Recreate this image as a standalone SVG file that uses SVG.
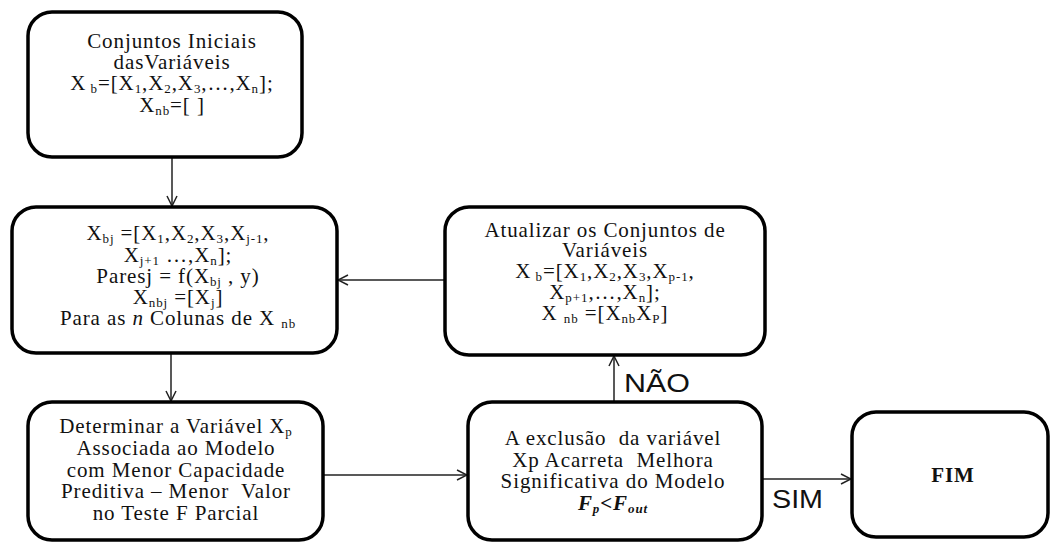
<svg xmlns="http://www.w3.org/2000/svg" width="1051" height="544" viewBox="0 0 1051 544">
<style>
.box{fill:#fff;stroke:#000;stroke-width:3.5}
.t{font-family:"Liberation Serif","Times New Roman",serif;font-size:21px;letter-spacing:0.9px;text-anchor:middle;fill:#111}
.s{font-size:13px}
.lab{font-family:"Liberation Sans",Arial,sans-serif;font-size:25px;fill:#111}
.c{stroke:#222;stroke-width:1.5;fill:none}
</style>
<defs>
<marker id="ah" viewBox="0 0 12 12" refX="11" refY="6" markerWidth="12" markerHeight="12" markerUnits="userSpaceOnUse" orient="auto">
<path d="M1,1 L11,6 L1,11" fill="none" stroke="#222" stroke-width="1.5"/>
</marker>
</defs>
<rect width="1051" height="544" fill="#fff"/>
<g id="connectors">
<line class="c" x1="172" y1="157" x2="172" y2="206" marker-end="url(#ah)"/>
<line class="c" x1="445" y1="280" x2="338" y2="280" marker-end="url(#ah)"/>
<line class="c" x1="171" y1="353" x2="171" y2="401" marker-end="url(#ah)"/>
<line class="c" x1="323" y1="475" x2="467" y2="475" marker-end="url(#ah)"/>
<line class="c" x1="614" y1="402" x2="614" y2="356" marker-end="url(#ah)"/>
<line class="c" x1="752" y1="479" x2="851" y2="479" marker-end="url(#ah)"/>
<text class="lab" x="624" y="392" textLength="66" lengthAdjust="spacingAndGlyphs">NÃO</text>
<text class="lab" x="772" y="508" textLength="51" lengthAdjust="spacingAndGlyphs">SIM</text>
</g>
<g id="node-inicio">
<rect class="box" x="28" y="12" width="274" height="145" rx="24"/>
<text class="t" x="172" y="48">Conjuntos Iniciais</text>
<text class="t" x="172" y="69">dasVariáveis</text>
<text class="t" x="172" y="90">X<tspan class="s" dy="3"> b</tspan><tspan dy="-3">=[X</tspan><tspan class="s" dy="3">1</tspan><tspan dy="-3">,X</tspan><tspan class="s" dy="3">2</tspan><tspan dy="-3">,X</tspan><tspan class="s" dy="3">3</tspan><tspan dy="-3">,…,X</tspan><tspan class="s" dy="3">n</tspan><tspan dy="-3">];</tspan></text>
<text class="t" x="172" y="112">X<tspan class="s" dy="3">nb</tspan><tspan dy="-3">=[ ]</tspan></text>
</g>
<g id="node-pares">
<rect class="box" x="12" y="207" width="325" height="146" rx="24"/>
<text class="t" x="178" y="240">X<tspan class="s" dy="3">bj</tspan><tspan dy="-3"> =[X</tspan><tspan class="s" dy="3">1</tspan><tspan dy="-3">,X</tspan><tspan class="s" dy="3">2</tspan><tspan dy="-3">,X</tspan><tspan class="s" dy="3">3</tspan><tspan dy="-3">,X</tspan><tspan class="s" dy="3">j-1</tspan><tspan dy="-3">,</tspan></text>
<text class="t" x="178" y="262">X<tspan class="s" dy="3">j+1</tspan><tspan dy="-3"> …,X</tspan><tspan class="s" dy="3">n</tspan><tspan dy="-3">];</tspan></text>
<text class="t" x="178" y="283">Paresj = f(X<tspan class="s" dy="3">bj</tspan><tspan dy="-3"> , y)</tspan></text>
<text class="t" x="178" y="304">X<tspan class="s" dy="3">nbj</tspan><tspan dy="-3"> =[X</tspan><tspan class="s" dy="3">j</tspan><tspan dy="-3">]</tspan></text>
<text class="t" x="178" y="325">Para as <tspan font-style="italic">n</tspan> Colunas de X <tspan class="s" dy="3">nb</tspan></text>
</g>
<g id="node-atualizar">
<rect class="box" x="445" y="207" width="320" height="148" rx="24"/>
<text class="t" x="605" y="237">Atualizar os Conjuntos de</text>
<text class="t" x="605" y="257">Variáveis</text>
<text class="t" x="605" y="278">X<tspan class="s" dy="3"> b</tspan><tspan dy="-3">=[X</tspan><tspan class="s" dy="3">1</tspan><tspan dy="-3">,X</tspan><tspan class="s" dy="3">2</tspan><tspan dy="-3">,X</tspan><tspan class="s" dy="3">3</tspan><tspan dy="-3">,X</tspan><tspan class="s" dy="3">p-1</tspan><tspan dy="-3">,</tspan></text>
<text class="t" x="605" y="299">X<tspan class="s" dy="3">p+1</tspan><tspan dy="-3">,…,X</tspan><tspan class="s" dy="3">n</tspan><tspan dy="-3">];</tspan></text>
<text class="t" x="605" y="320">X <tspan class="s" dy="3">nb</tspan><tspan dy="-3"> =[X</tspan><tspan class="s" dy="3">nb</tspan><tspan dy="-3">X</tspan><tspan class="s" dy="3">P</tspan><tspan dy="-3">]</tspan></text>
</g>
<g id="node-determinar">
<rect class="box" x="28" y="402" width="295" height="138" rx="24"/>
<text class="t" x="176" y="433">Determinar a Variável X<tspan class="s" dy="3">p</tspan></text>
<text class="t" x="176" y="455">Associada ao Modelo</text>
<text class="t" x="176" y="477">com Menor Capacidade</text>
<text class="t" x="176" y="498">Preditiva – Menor&#160; Valor</text>
<text class="t" x="176" y="520">no Teste F Parcial</text>
</g>
<g id="node-decisao">
<rect class="box" x="468" y="402" width="294" height="138" rx="24"/>
<text class="t" x="613" y="445">A exclusão&#160; da variável</text>
<text class="t" x="613" y="467">Xp Acarreta&#160; Melhora</text>
<text class="t" x="613" y="488">Significativa do Modelo</text>
<text class="t" x="613" y="510" font-weight="bold" font-style="italic">F<tspan class="s" dy="3">p</tspan><tspan dy="-3">&lt;F</tspan><tspan class="s" dy="3">out</tspan></text>
</g>
<g id="node-fim">
<rect class="box" x="852" y="412" width="196" height="125" rx="24"/>
<text class="t" x="953" y="482" font-weight="bold">FIM</text>
</g>
</svg>
